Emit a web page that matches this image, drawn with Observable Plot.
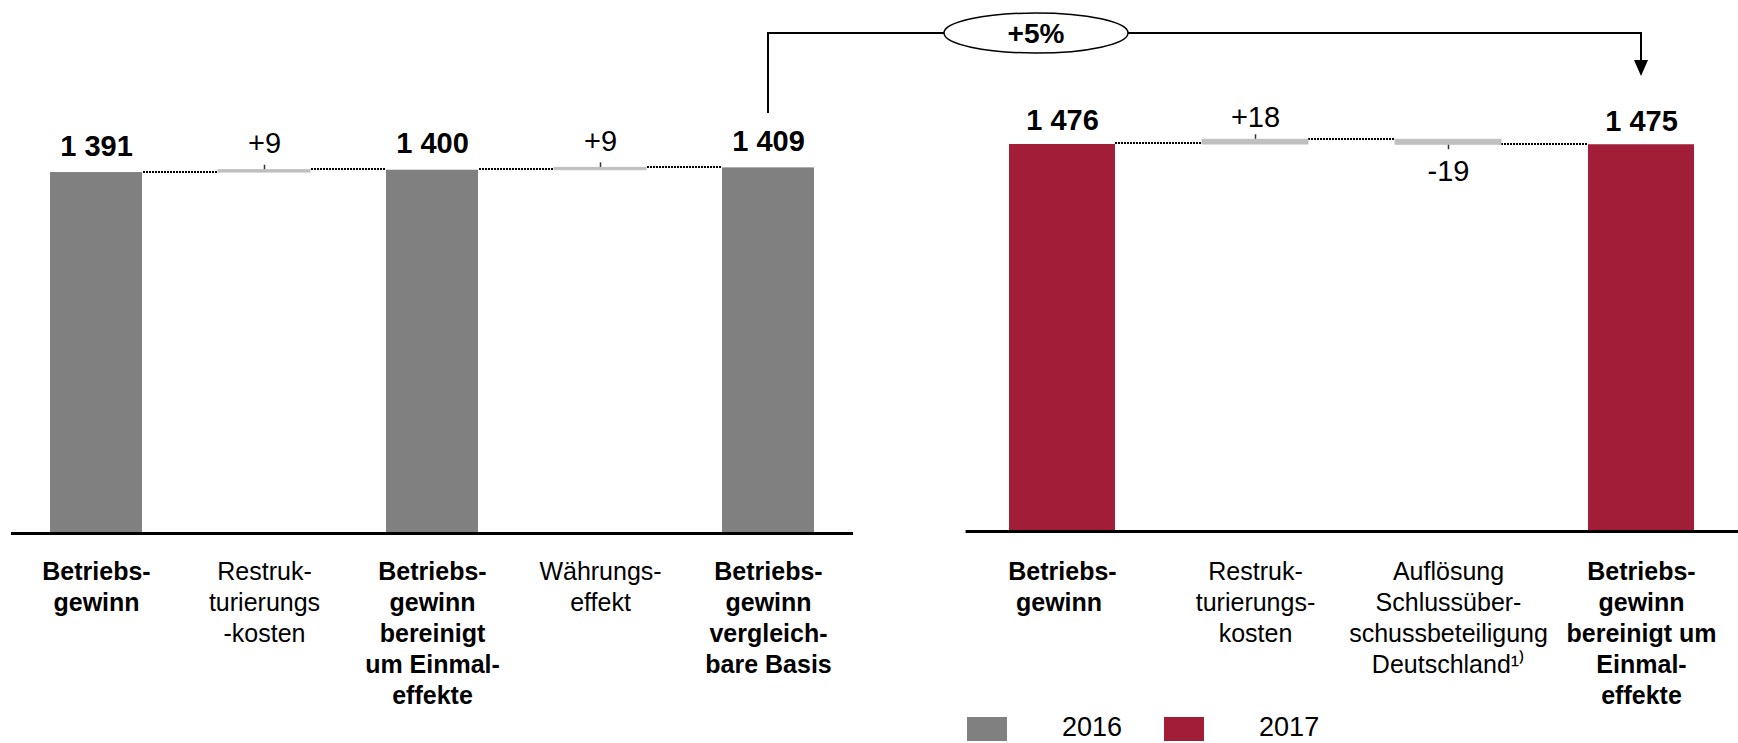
<!DOCTYPE html>
<html><head><meta charset="utf-8">
<script src="https://cdn.jsdelivr.net/npm/d3@7"></script>
<script src="https://cdn.jsdelivr.net/npm/@observablehq/plot@0.6"></script>
<style>
body{margin:0;background:#fff;font-family:"Liberation Sans",Arial,sans-serif;}
#wrap{position:relative;width:1738px;height:743px;overflow:hidden;background:#fff}
#left{position:absolute;left:0;top:0}
#right{position:absolute;left:870px;top:0}
#legend{position:absolute;left:967px;top:713px;height:28px;display:flex;align-items:center;font-size:27px;color:#000;line-height:28px}
#legend .sw{width:40px;height:24px;display:inline-block;position:relative;top:2px}
#overlay{position:absolute;left:0;top:0;pointer-events:none}
</style></head><body>
<div id="wrap"><div id="left"></div><div id="right"></div><div id="legend"></div><svg id="overlay" width="1738" height="743"></svg></div>
<script>
// ---- data ----
const leftCategories = ["Betriebs-\ngewinn", "Restruk-\nturierungs\n-kosten", "Betriebs-\ngewinn\nbereinigt\num Einmal-\neffekte", "Währungs-\neffekt", "Betriebs-\ngewinn\nvergleich-\nbare Basis"];
const leftKinds = ["total", "delta", "total", "delta", "total"];
const leftValues = [1391, 9, 1400, 9, 1409];
const leftLabels = ["1 391", "+9", "1 400", "+9", "1 409"];

const rightCategories = ["Betriebs-\ngewinn ", "Restruk-\nturierungs-\nkosten", "Auflösung\nSchlussüber-\nschussbeteiligung\nDeutschland\u00b9\u207e", "Betriebs-\ngewinn\nbereinigt um\nEinmal-\neffekte"];
const rightKinds = ["total", "delta", "delta", "total"];
const rightValues = [1476, 18, -19, 1475];
const rightLabels = ["1 476", "+18", "-19", "1 475"];

const years = ["2016", "2017"];
const yearColors = ["#808080", "#A21D38"];
const deltaColor = "#BFBFBF";
const growthLabel = "+5%";

// ---- helpers ----
function buildRows(cats, kinds, values, labels) {
  let run = 0;
  return cats.map((c, i) => {
    let y1, y2;
    if (kinds[i] === "total") { y1 = 0; y2 = values[i]; run = values[i]; }
    else { y1 = run; y2 = run + values[i]; run = y2; }
    return {cat: c, kind: kinds[i], value: values[i], y1, y2, level: run, label: labels[i], next: cats[i + 1]};
  });
}

const FONT = "Liberation Sans, Arial, Helvetica, sans-serif";

function panel(cats, kinds, values, labels, color, cfg) {
  const rows = buildRows(cats, kinds, values, labels);
  const pi = 0.45, po = 0.225;
  const rangeW = cfg.width - cfg.marginLeft - cfg.marginRight;
  const step = rangeW / (cats.length - pi + 2 * po);
  const bw = step * (1 - pi);
  const totals = rows.filter(d => d.kind === "total");
  const deltas = rows.filter(d => d.kind === "delta");
  const conns = rows.filter(d => d.next !== undefined);
  return Plot.plot({
    width: cfg.width, height: cfg.height,
    marginLeft: cfg.marginLeft, marginRight: cfg.marginRight,
    marginTop: cfg.marginTop, marginBottom: cfg.marginBottom,
    style: {fontFamily: FONT, background: "transparent", overflow: "visible"},
    x: {type: "band", domain: cats, paddingInner: pi, paddingOuter: po, axis: null},
    y: {domain: [0, 2000], axis: null},
    marks: [
      Plot.ruleY(conns, {x1: "cat", x2: "next", y: "level", insetLeft: bw, insetRight: bw, dy: -1,
        stroke: "#000", strokeWidth: 2, strokeDasharray: "2,1", shapeRendering: "crispEdges"}),
      Plot.barY(totals, {x: "cat", y1: "y1", y2: "y2", fill: color}),
      Plot.barY(deltas, {x: "cat", y1: "y1", y2: "y2", fill: deltaColor, stroke: deltaColor, strokeWidth: 1}),
      Plot.ruleX(deltas.filter(d => d.value >= 0), {x: "cat", y1: "y2", y2: "y2", insetTop: -0.5, insetBottom: 5, stroke: "#333", strokeWidth: 1.5}),
      Plot.ruleX(deltas.filter(d => d.value < 0), {x: "cat", y1: "y2", y2: "y2", insetTop: 0.5, insetBottom: -5, stroke: "#333", strokeWidth: 1.5}),
      Plot.ruleY([0], {stroke: "#000", strokeWidth: 3}),
      Plot.text(totals, {x: "cat", y: "y2", text: "label", dy: cfg.totalDy, lineAnchor: "bottom", fontWeight: "bold", fontSize: 29, fill: "#000"}),
      Plot.text(deltas.filter(d => d.value >= 0), {x: "cat", y: "y2", text: "label", dy: cfg.deltaDy, lineAnchor: "bottom", fontSize: 29, fill: "#000"}),
      Plot.text(deltas.filter(d => d.value < 0), {x: "cat", y: "y2", text: "label", dy: 16, lineAnchor: "top", fontSize: 29, fill: "#000"}),
      Plot.text(totals, {x: "cat", y: 0, text: "cat", dy: cfg.catDy, lineAnchor: "top", lineHeight: 1.24, fontWeight: "bold", fontSize: 25, fill: "#000"}),
      Plot.text(deltas, {x: "cat", y: 0, text: "cat", dy: cfg.catDy, lineAnchor: "top", lineHeight: 1.24, fontSize: 25, fill: "#000"})
    ]
  });
}

const leftPlot = panel(leftCategories, leftKinds, leftValues, leftLabels, yearColors[0],
  {width: 870, height: 712, marginLeft: 11, marginRight: 17, marginTop: 14, marginBottom: 179, totalDy: -17, deltaDy: -17, catDy: 24});
const rightPlot = panel(rightCategories, rightKinds, rightValues, rightLabels, yearColors[1],
  {width: 868, height: 712, marginLeft: 95.6, marginRight: 0, marginTop: 6.6, marginBottom: 181, totalDy: -14, deltaDy: -13, catDy: 26});
document.getElementById("left").appendChild(leftPlot);
document.getElementById("right").appendChild(rightPlot);

// ---- legend ----
const legend = d3.select("#legend");
years.forEach((yr, i) => {
  legend.append("span").attr("class", "sw").style("background", yearColors[i]).style("margin-left", i ? "42px" : "0px");
  legend.append("span").text(yr).style("margin-left", "55px");
});

// ---- growth annotation ----
const lx = leftPlot.scale("x"), rx = rightPlot.scale("x");
const xL = lx.apply(leftCategories[4]) + lx.bandwidth / 2;
const xR = 870 + rx.apply(rightCategories[3]) + rx.bandwidth / 2;
const ov = d3.select("#overlay");
const cy = 33, ecx = 1036, erx = 92, ery = 20;
ov.append("path").attr("d", `M${xL},113V${cy}H${ecx - erx}`).attr("fill", "none").attr("stroke", "#000").attr("stroke-width", 2);
ov.append("path").attr("d", `M${ecx + erx},${cy}H${xR}V62`).attr("fill", "none").attr("stroke", "#000").attr("stroke-width", 2);
ov.append("path").attr("d", `M${xR - 7},60L${xR + 7},60L${xR},76Z`).attr("fill", "#000");
ov.append("ellipse").attr("cx", ecx).attr("cy", cy).attr("rx", erx).attr("ry", ery).attr("fill", "#fff").attr("stroke", "#000").attr("stroke-width", 1.5);
ov.append("text").attr("x", ecx).attr("y", cy + 10).attr("text-anchor", "middle").attr("font-family", FONT).attr("font-weight", "bold").attr("font-size", 28).text(growthLabel);
</script>
</body></html>
